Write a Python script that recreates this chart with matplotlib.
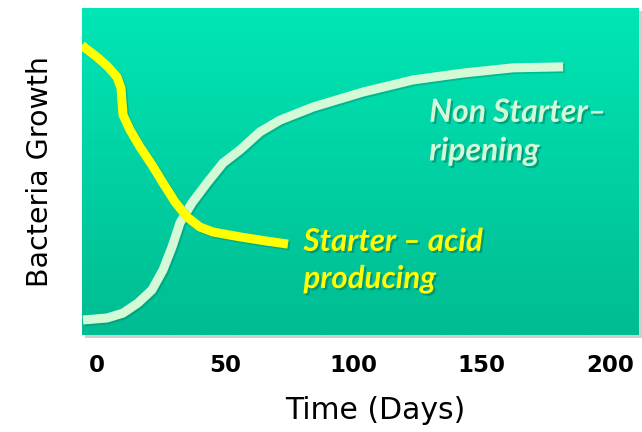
import numpy as np
import matplotlib
matplotlib.use("Agg")
import matplotlib.pyplot as plt
import matplotlib.patheffects as pe
from matplotlib.patches import Rectangle

# Data
starter_days = [-5.85, -4.68, 0.0, 4.29, 7.80, 9.36, 9.75, 10.14, 12.87, 16.76, 21.44, 25.73,
                30.41, 35.09, 40.16, 45.22, 55.75, 66.28, 74.46]
starter_growth = [0.887, 0.878, 0.850, 0.820, 0.789, 0.755, 0.713, 0.673, 0.627, 0.575, 0.520, 0.465,
                  0.407, 0.361, 0.330, 0.315, 0.300, 0.287, 0.278]
nonstarter_days = [-5.46, 3.90, 10.14, 15.98, 21.44, 25.73, 29.24, 32.36, 37.04, 42.88, 49.12,
                   55.75, 63.5, 71.3, 84.2, 103.7, 123.2, 142.7, 162.2, 181.7]
nonstarter_growth = [0.046, 0.052, 0.067, 0.098, 0.138, 0.199, 0.269, 0.343, 0.404, 0.465, 0.526,
                     0.566, 0.621, 0.657, 0.697, 0.743, 0.780, 0.801, 0.817, 0.820]
tick_values = [0, 50, 100, 150, 200]
tick_labels = ["0", "50", "100", "150", "200"]

fig = plt.figure(figsize=(6.42, 4.32), dpi=100)
ax = fig.add_axes([0.1277, 0.2245, 0.8676, 0.757])
ax.set_zorder(1)
xlim = (-5.85, 211.3)
ylim = (0, 1)
ax.set_xlim(*xlim)
ax.set_ylim(*ylim)

# shadow behind plot box
shadow = Rectangle((0.1277 + 0.004, 0.2245 - 0.008), 0.8676, 0.757,
                   transform=fig.transFigure, facecolor="#b0b0b0", alpha=0.6,
                   edgecolor="none", zorder=-5)
fig.patches.append(shadow)

# gradient background
top = np.array([0, 230, 181]) / 255
bot = np.array([0, 188, 146]) / 255
t = np.linspace(0, 1, 256)[:, None]
grad = (top[None, :] * (1 - t) + bot[None, :] * t)[:, None, :]
ax.imshow(grad, extent=[xlim[0], xlim[1], ylim[0], ylim[1]], aspect="auto",
          origin="upper", zorder=0)

shadow_fx = [pe.SimpleLineShadow(offset=(1.2, -1.2), shadow_color="#006b52", alpha=0.3), pe.Normal()]
ax.plot(nonstarter_days, nonstarter_growth, color="#d3f9d6", lw=6.5, solid_capstyle="butt",
        solid_joinstyle="round", path_effects=shadow_fx, zorder=2)
ax.plot(starter_days, starter_growth, color="#ffff00", lw=6.5, solid_capstyle="butt",
        solid_joinstyle="round", path_effects=shadow_fx, zorder=3)

txt_fx = [pe.withSimplePatchShadow(offset=(1.5, -1.5), shadow_rgbFace="#00664e", alpha=0.45)]
ax.text(129.5, 0.622, "Non Starter–\nripening", color="#d3f9d6", fontsize=23,
        fontweight="bold", fontstyle="italic", family="Lato", ha="left", va="center",
        linespacing=1.4, zorder=4, path_effects=txt_fx)
ax.text(80.5, 0.228, "Starter – acid\nproducing", color="#ffff00", fontsize=22.5,
        fontweight="bold", fontstyle="italic", family="Lato", ha="left", va="center",
        linespacing=1.4, zorder=4, path_effects=txt_fx)

for s in ax.spines.values():
    s.set_visible(False)
ax.set_yticks([])
ax.set_xticks(tick_values)
ax.set_xticklabels(tick_labels, fontsize=16.5, fontweight="bold", family="DejaVu Sans")
ax.tick_params(axis="x", length=0, pad=14)
ax.set_xlabel("Time (Days)", fontsize=21.5, family="DejaVu Sans")
ax.xaxis.set_label_coords(0.526, -0.185)
ax.set_ylabel("Bacteria Growth", fontsize=20.5, family="DejaVu Sans")
ax.yaxis.set_label_coords(-0.05, 0.5)

fig.savefig("out.png", dpi=100)
